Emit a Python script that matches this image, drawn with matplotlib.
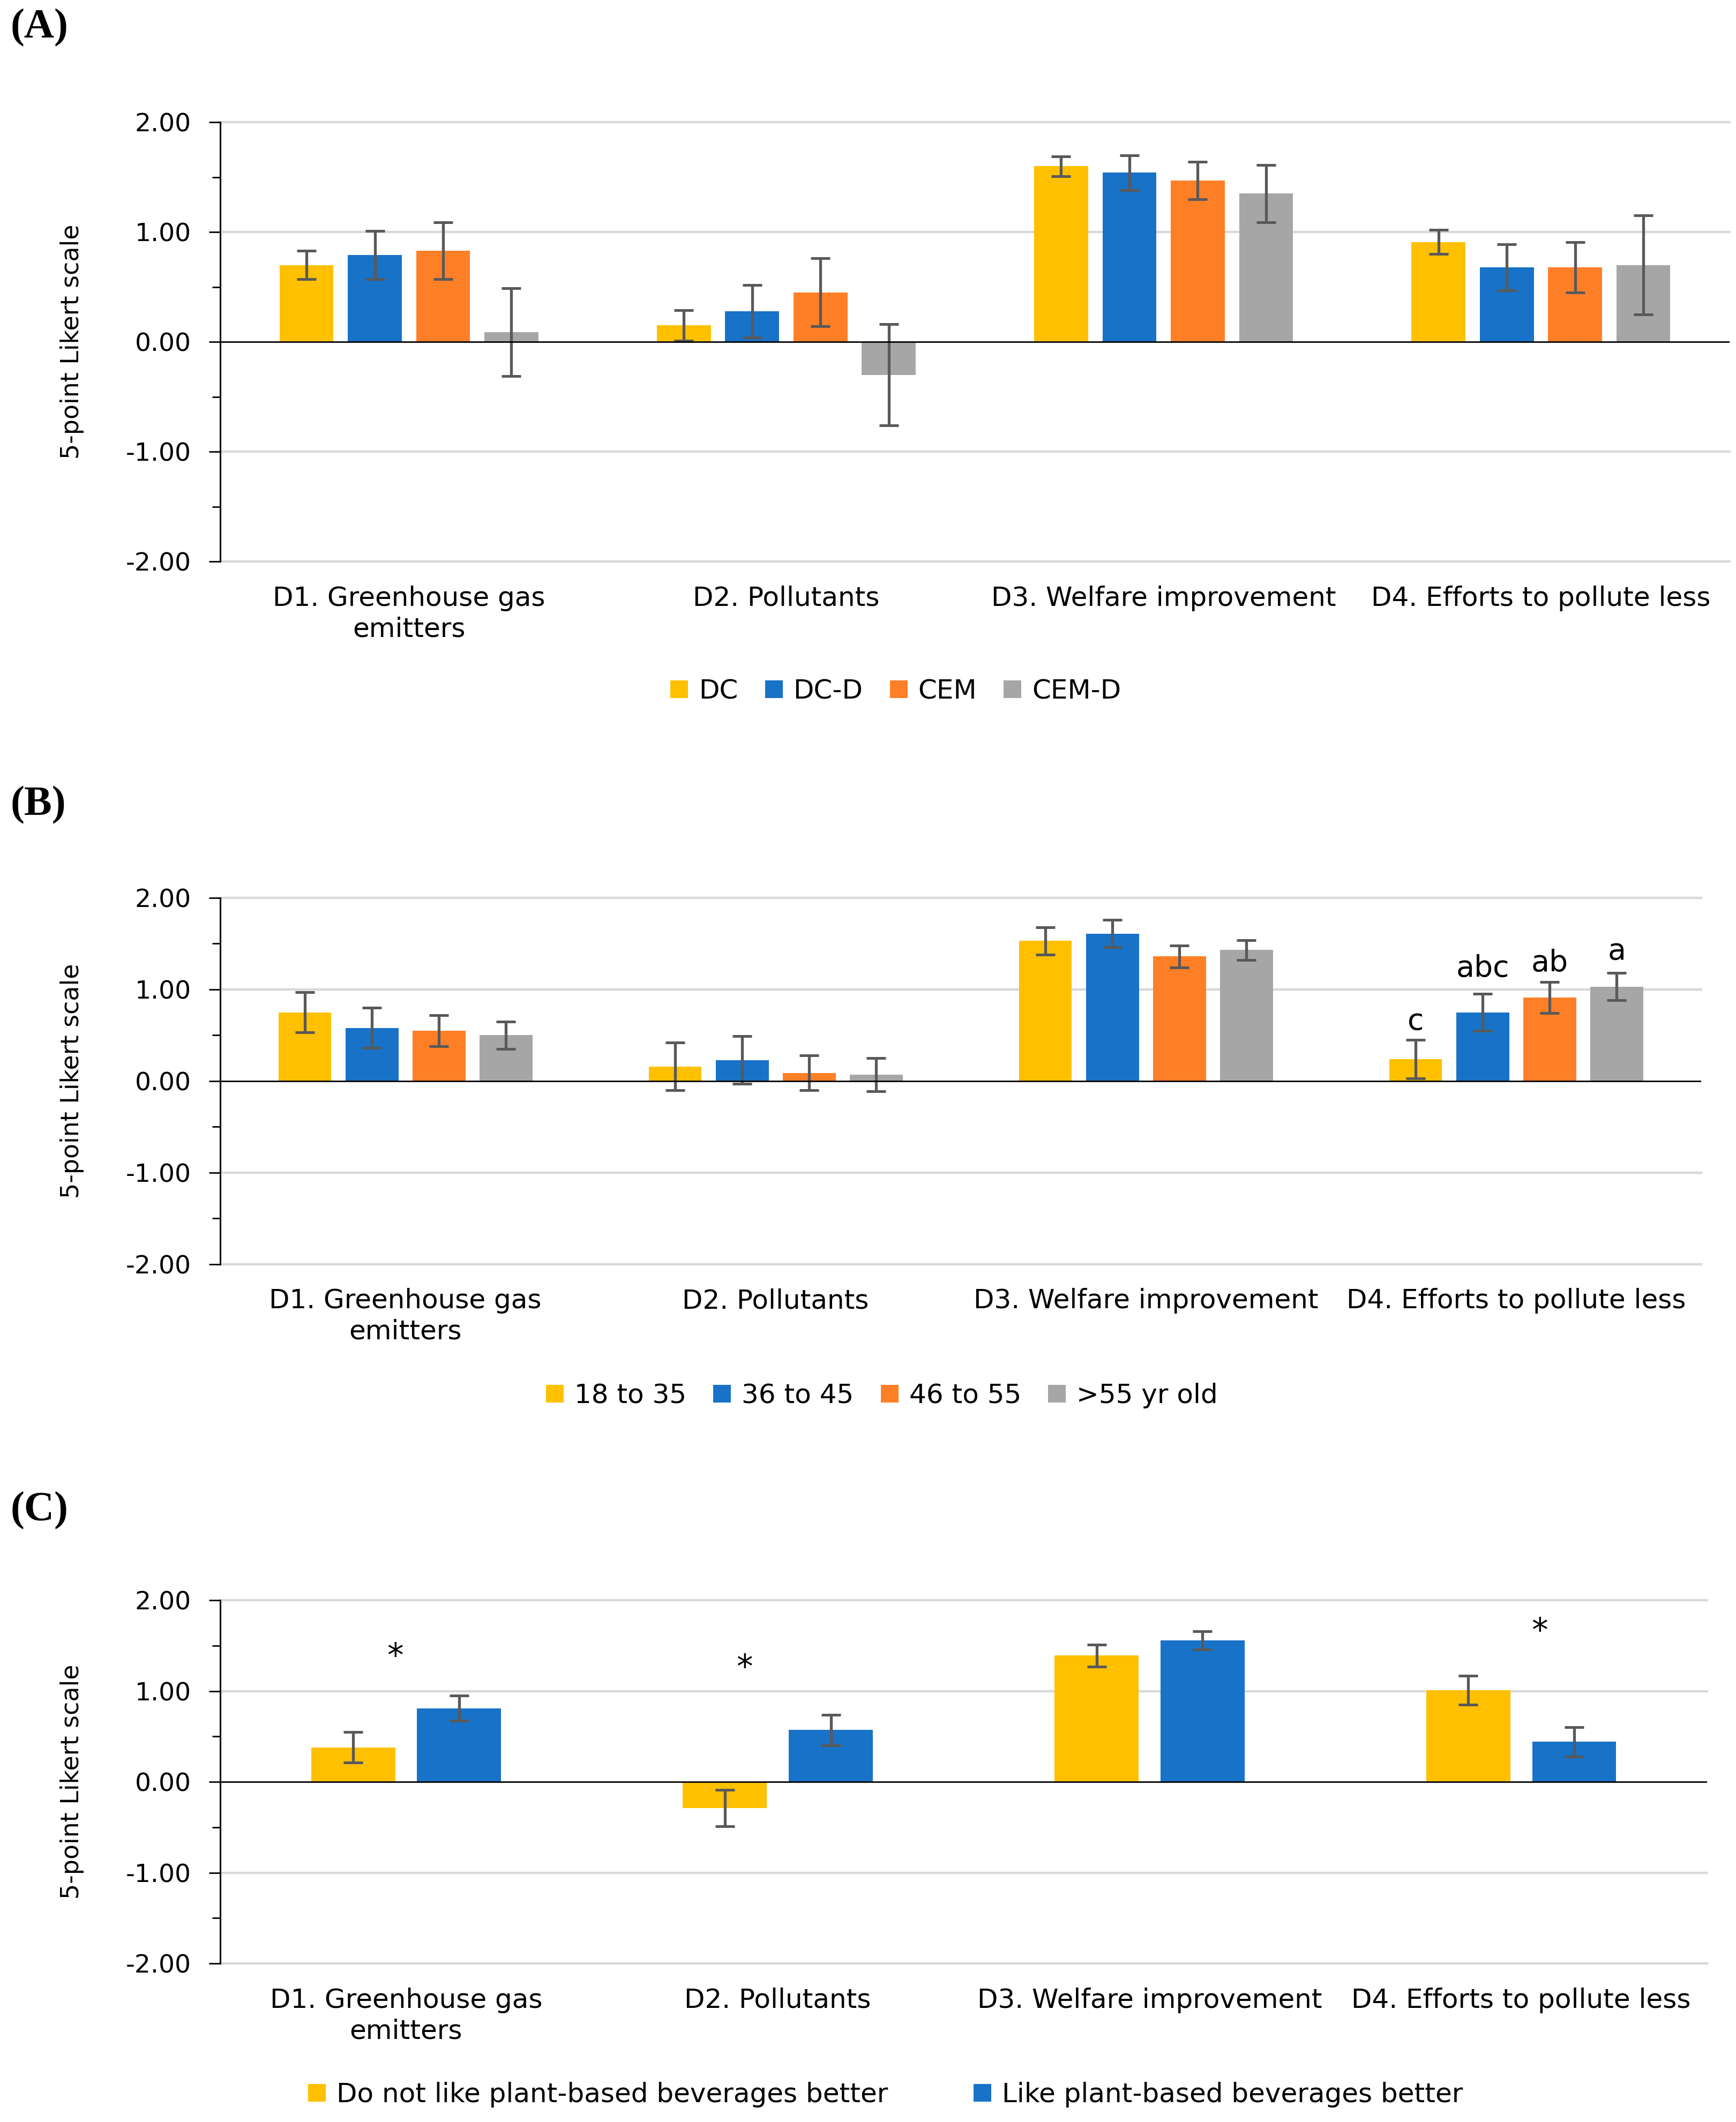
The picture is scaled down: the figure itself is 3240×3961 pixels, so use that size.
import matplotlib.pyplot as plt
from matplotlib.patches import Patch
import numpy as np

# Categories shared by the three panels
categories = ["D1. Greenhouse gas\nemitters", "D2. Pollutants",
              "D3. Welfare improvement", "D4. Efforts to pollute less"]

# Panel A: cheese type
a_groups = ["DC", "DC-D", "CEM", "CEM-D"]
a_means = [[0.70, 0.15, 1.60, 0.91],
           [0.79, 0.28, 1.54, 0.68],
           [0.83, 0.45, 1.47, 0.68],
           [0.09, -0.30, 1.35, 0.70]]
a_errs = [[0.13, 0.14, 0.09, 0.11],
          [0.22, 0.24, 0.16, 0.21],
          [0.26, 0.31, 0.17, 0.23],
          [0.40, 0.46, 0.26, 0.45]]

# Panel B: age groups
b_groups = ["18 to 35", "36 to 45", "46 to 55", ">55 yr old"]
b_means = [[0.75, 0.16, 1.53, 0.24],
           [0.58, 0.23, 1.61, 0.75],
           [0.55, 0.09, 1.36, 0.91],
           [0.50, 0.07, 1.43, 1.03]]
b_errs = [[0.22, 0.26, 0.15, 0.21],
          [0.22, 0.26, 0.15, 0.20],
          [0.17, 0.19, 0.12, 0.17],
          [0.15, 0.18, 0.11, 0.15]]
b_letters = ["c", "abc", "ab", "a"]          # over D4 bars
b_letter_y = [0.56, 1.14, 1.20, 1.33]

# Panel C: preference for plant-based beverages
c_groups = ["Do not like plant-based beverages better",
            "Like plant-based beverages better"]
c_means = [[0.38, -0.29, 1.39, 1.01],
           [0.81, 0.57, 1.56, 0.44]]
c_errs = [[0.17, 0.20, 0.12, 0.16],
          [0.14, 0.17, 0.10, 0.16]]
c_star_x = [-0.03, 0.91, 3.05]
c_star_y = [1.37, 1.25, 1.65]

colors = ["#FFC000", "#1872C8", "#FF7F27", "#A6A6A6"]
yticks = [-2, -1, 0, 1, 2]
ytick_labels = ["-2.00", "-1.00", "0.00", "1.00", "2.00"]

W, H = 3240, 3961
fig = plt.figure(figsize=(W / 100, H / 100), dpi=100)


def draw_panel(rect, groups, means, errs, width, pitch):
    ax = fig.add_axes(rect)
    x = np.arange(len(categories))
    n = len(groups)
    for i in range(n):
        pos = x + (i - (n - 1) / 2) * pitch
        ax.bar(pos, means[i], width, color=colors[i], zorder=3)
        ax.errorbar(pos, means[i], yerr=errs[i], fmt="none", ecolor="#595959",
                    elinewidth=3.8, capsize=13, capthick=3.6, zorder=4)
    for y in yticks:
        if y == 0:
            ax.axhline(0, color="black", lw=2.0, zorder=5)
        else:
            ax.axhline(y, color="#D9D9D9", lw=3.2, zorder=1, clip_on=False)
    ax.set_xlim(-0.5, 3.5)
    ax.set_ylim(-2, 2)
    ax.set_yticks(yticks)
    ax.set_yticklabels(ytick_labels, fontsize=34)
    ax.set_yticks(np.arange(-1.5, 2, 1.0), minor=True)
    ax.tick_params(axis="y", which="major", length=15, width=2, pad=24)
    ax.tick_params(axis="y", which="minor", length=11, width=2)
    ax.set_xticks(x)
    ax.set_xticklabels(categories, fontsize=36, linespacing=1.25)
    ax.tick_params(axis="x", length=0, pad=32)
    for s in ["top", "right", "bottom"]:
        ax.spines[s].set_visible(False)
    ax.spines["left"].set_linewidth(2.2)
    ax.set_ylabel("5-point Likert scale", fontsize=33)
    ax_w = rect[2] * W
    ax.yaxis.set_label_coords(-254 / ax_w, 0.5)
    return ax


def add_legend(groups, xc, yc, colspace):
    handles = [Patch(facecolor=colors[i], label=g) for i, g in enumerate(groups)]
    fig.legend(handles=handles, loc="center", bbox_to_anchor=(xc, yc),
               ncol=len(groups), frameon=False, fontsize=36,
               handlelength=0.66, handleheight=0.66, handletextpad=0.4,
               columnspacing=colspace)


# (A)
draw_panel([0.1269, 0.7354, 0.8694, 0.2070], a_groups, a_means, a_errs, 0.143, 0.181)
add_legend(a_groups, 0.516, 0.6743, 1.0)
fig.text(0.0062, 0.996, "(A)", fontsize=56, fontweight="bold",
         family="Liberation Serif", va="top", ha="left")

# (B)
ax_b = draw_panel([0.1269, 0.4042, 0.8531, 0.1727], b_groups, b_means, b_errs, 0.143, 0.181)
for i, lab in enumerate(b_letters):
    ax_b.text(3 + (i - 1.5) * 0.181, b_letter_y[i], lab, fontsize=40,
              ha="center", va="baseline", zorder=6)
add_legend(b_groups, 0.508, 0.3423, 1.0)
fig.text(0.0062, 0.6295, "(B)", fontsize=56, fontweight="bold",
         family="Liberation Serif", va="top", ha="left")

# (C)
ax_c = draw_panel([0.1269, 0.0747, 0.8564, 0.1712], c_groups, c_means, c_errs, 0.226, 0.285)
for sx, sy in zip(c_star_x, c_star_y):
    ax_c.text(sx, sy, "*", fontsize=44, ha="center", va="center", zorder=6)
add_legend(c_groups, 0.51, 0.0129, 3.2)
fig.text(0.0062, 0.2972, "(C)", fontsize=56, fontweight="bold",
         family="Liberation Serif", va="top", ha="left")

fig.savefig("out.png", dpi=100)
